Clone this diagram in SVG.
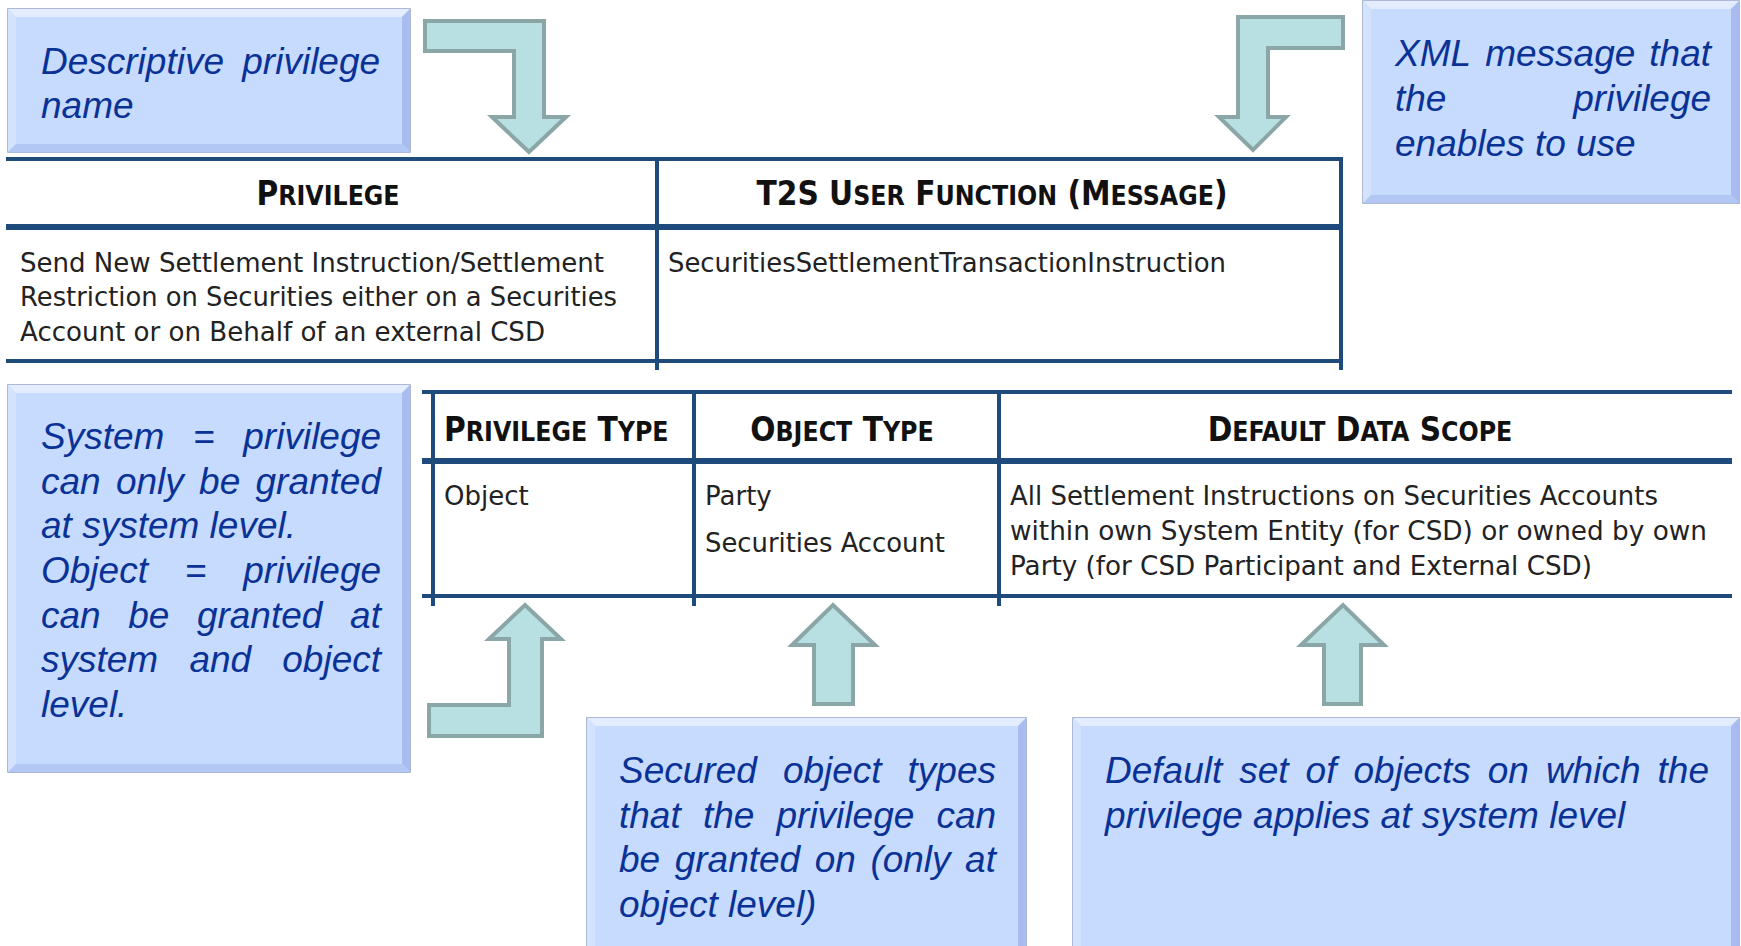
<svg xmlns="http://www.w3.org/2000/svg" width="1741" height="946" viewBox="0 0 1741 946">
<style>
.bt{font-family:"Liberation Sans",Arial,sans-serif;font-style:italic;font-size:37px;fill:#0a3296}
.hd{font-family:"DejaVu Sans Condensed","DejaVu Sans",Verdana,sans-serif;font-stretch:condensed;font-weight:bold;fill:#111;font-size:33px}
.sc{font-size:26.4px}
.cl{font-family:"DejaVu Sans",Verdana,sans-serif;font-size:26px;fill:#222}
.tl{stroke:#1f4a7c;stroke-width:4;fill:none}
.th{stroke:#1f4a7c;stroke-width:6;fill:none}
.arrow{fill:#b8dfe1;stroke:#8ba6a7;stroke-width:4;stroke-linejoin:miter}
.bx{fill:#c6dbfd;stroke:#93a3c9;stroke-width:1.5}
.bvT{fill:#e3edfe}
.bvL{fill:#d3e2fd}
.bvR{fill:#a8bcef}
.bvB{fill:#b3c7f4}
</style>

<!-- Annotation boxes -->
<g id="box-descriptive">
<rect class="bx" x="8" y="9" width="402" height="143"/>
<polygon class="bvT" points="8,9 410,9 402,17 16,17"/>
<polygon class="bvL" points="8,9 16,17 16,144 8,152"/>
<polygon class="bvR" points="410,9 410,152 402,144 402,17"/>
<polygon class="bvB" points="8,152 410,152 402,144 16,144"/>
<text class="bt" y="74"><tspan x="41">Descriptive</tspan><tspan x="242.3">privilege</tspan></text>
<text class="bt" x="41" y="118">name</text>
</g>

<g id="box-xml">
<rect class="bx" x="1363" y="1" width="376" height="202"/>
<polygon class="bvT" points="1363,1 1739,1 1731,9 1371,9"/>
<polygon class="bvL" points="1363,1 1371,9 1371,195 1363,203"/>
<polygon class="bvR" points="1739,1 1739,203 1731,195 1731,9"/>
<polygon class="bvB" points="1363,203 1739,203 1731,195 1371,195"/>
<text class="bt" y="66"><tspan x="1395">XML</tspan><tspan x="1485.2">message</tspan><tspan x="1649.3">that</tspan></text>
<text class="bt" y="111"><tspan x="1395">the</tspan><tspan x="1573.3">privilege</tspan></text>
<text class="bt" x="1395" y="156">enables to use</text>
</g>

<g id="box-privilege-type">
<rect class="bx" x="8" y="385" width="402" height="387"/>
<polygon class="bvT" points="8,385 410,385 402,393 16,393"/>
<polygon class="bvL" points="8,385 16,393 16,764 8,772"/>
<polygon class="bvR" points="410,385 410,772 402,764 402,393"/>
<polygon class="bvB" points="8,772 410,772 402,764 16,764"/>
<text class="bt" y="449"><tspan x="41">System</tspan><tspan x="193">=</tspan><tspan x="243.3">privilege</tspan></text>
<text class="bt" y="494"><tspan x="41">can</tspan><tspan x="115.9">only</tspan><tspan x="199.1">be</tspan><tspan x="255.5">granted</tspan></text>
<text class="bt" x="41" y="538">at system level.</text>
<text class="bt" y="583"><tspan x="41">Object</tspan><tspan x="184.8">=</tspan><tspan x="243.3">privilege</tspan></text>
<text class="bt" y="628"><tspan x="41">can</tspan><tspan x="128.2">be</tspan><tspan x="196.9">granted</tspan><tspan x="350.1">at</tspan></text>
<text class="bt" y="672"><tspan x="41">system</tspan><tspan x="189.4">and</tspan><tspan x="282.3">object</tspan></text>
<text class="bt" x="41" y="717">level.</text>
</g>

<g id="box-object-type">
<rect class="bx" x="587" y="718" width="439" height="240"/>
<polygon class="bvT" points="587,718 1026,718 1018,726 595,726"/>
<polygon class="bvL" points="587,718 595,726 595,958 587,958"/>
<polygon class="bvR" points="1026,718 1026,958 1018,958 1018,726"/>
<text class="bt" y="783"><tspan x="619">Secured</tspan><tspan x="782.9">object</tspan><tspan x="907.6">types</tspan></text>
<text class="bt" y="828"><tspan x="619">that</tspan><tspan x="702.9">the</tspan><tspan x="776.5">privilege</tspan><tspan x="936.4">can</tspan></text>
<text class="bt" y="872"><tspan x="619">be</tspan><tspan x="674.7">granted</tspan><tspan x="814.7">on</tspan><tspan x="870.4">(only</tspan><tspan x="965.1">at</tspan></text>
<text class="bt" x="619" y="917">object level)</text>
</g>

<g id="box-data-scope">
<rect class="bx" x="1073" y="718" width="666" height="240"/>
<polygon class="bvT" points="1073,718 1739,718 1731,726 1081,726"/>
<polygon class="bvL" points="1073,718 1081,726 1081,958 1073,958"/>
<polygon class="bvR" points="1739,718 1739,958 1731,958 1731,726"/>
<text class="bt" y="783"><tspan x="1105">Default</tspan><tspan x="1239.2">set</tspan><tspan x="1305.6">of</tspan><tspan x="1353.5">objects</tspan><tspan x="1487.8">on</tspan><tspan x="1545.9">which</tspan><tspan x="1657.6">the</tspan></text>
<text class="bt" x="1105" y="828">privilege applies at system level</text>
</g>

<!-- Upper table -->
<g id="table-privilege">
<line class="tl" x1="6" y1="159" x2="1343" y2="159"/>
<line class="th" x1="6" y1="227" x2="1343" y2="227"/>
<line class="tl" x1="6" y1="361" x2="1343" y2="361"/>
<line class="tl" x1="657" y1="157" x2="657" y2="370"/>
<line class="tl" x1="1341" y1="157" x2="1341" y2="370"/>
<text class="hd" x="328" y="205" text-anchor="middle">P<tspan class="sc">RIVILEGE</tspan></text>
<text class="hd" x="992" y="205" text-anchor="middle">T2S U<tspan class="sc">SER</tspan> F<tspan class="sc">UNCTION</tspan> (M<tspan class="sc">ESSAGE</tspan>)</text>
<text class="cl" x="20" y="272" textLength="584" lengthAdjust="spacingAndGlyphs">Send New Settlement Instruction/Settlement</text>
<text class="cl" x="20" y="306" textLength="597" lengthAdjust="spacingAndGlyphs">Restriction on Securities either on a Securities</text>
<text class="cl" x="20" y="341" textLength="525" lengthAdjust="spacingAndGlyphs">Account or on Behalf of an external CSD</text>
<text class="cl" x="668" y="272" textLength="558" lengthAdjust="spacingAndGlyphs">SecuritiesSettlementTransactionInstruction</text>
</g>

<!-- Lower table -->
<g id="table-type">
<line class="tl" x1="422" y1="392" x2="1732" y2="392"/>
<line class="th" x1="422" y1="461" x2="1732" y2="461"/>
<line class="tl" x1="422" y1="596" x2="1732" y2="596"/>
<line class="tl" x1="433" y1="390" x2="433" y2="606"/>
<line class="tl" x1="694" y1="390" x2="694" y2="606"/>
<line class="tl" x1="999" y1="390" x2="999" y2="606"/>
<text class="hd" x="444" y="441">P<tspan class="sc">RIVILEGE</tspan> T<tspan class="sc">YPE</tspan></text>
<text class="hd" x="842" y="441" text-anchor="middle">O<tspan class="sc">BJECT</tspan> T<tspan class="sc">YPE</tspan></text>
<text class="hd" x="1360" y="441" text-anchor="middle">D<tspan class="sc">EFAULT</tspan> D<tspan class="sc">ATA</tspan> S<tspan class="sc">COPE</tspan></text>
<text class="cl" x="444" y="505">Object</text>
<text class="cl" x="705" y="505">Party</text>
<text class="cl" x="705" y="552" textLength="240" lengthAdjust="spacingAndGlyphs">Securities Account</text>
<text class="cl" x="1010" y="505" textLength="648" lengthAdjust="spacingAndGlyphs">All Settlement Instructions on Securities Accounts</text>
<text class="cl" x="1010" y="540" textLength="697" lengthAdjust="spacingAndGlyphs">within own System Entity (for CSD) or owned by own</text>
<text class="cl" x="1010" y="575" textLength="582" lengthAdjust="spacingAndGlyphs">Party (for CSD Participant and External CSD)</text>
</g>

<!-- Block arrows -->
<g id="connectors">
<polygon class="arrow" points="425,21 544,21 544,117 566,117 529,152 492,117 514,117 514,51 425,51"/>
<polygon class="arrow" points="1343,17 1238,17 1238,117 1219,117 1253,150 1286,117 1268,117 1268,48 1343,48"/>
<polygon class="arrow" points="429,736 429,705 509,705 509,639 489,639 525,605 561,639 542,639 542,736"/>
<polygon class="arrow" points="814,704 814,645 792,645 833,605 875,645 853,645 853,704"/>
<polygon class="arrow" points="1324,704 1324,645 1301,645 1343,605 1384,645 1361,645 1361,704"/>
</g>
</svg>
